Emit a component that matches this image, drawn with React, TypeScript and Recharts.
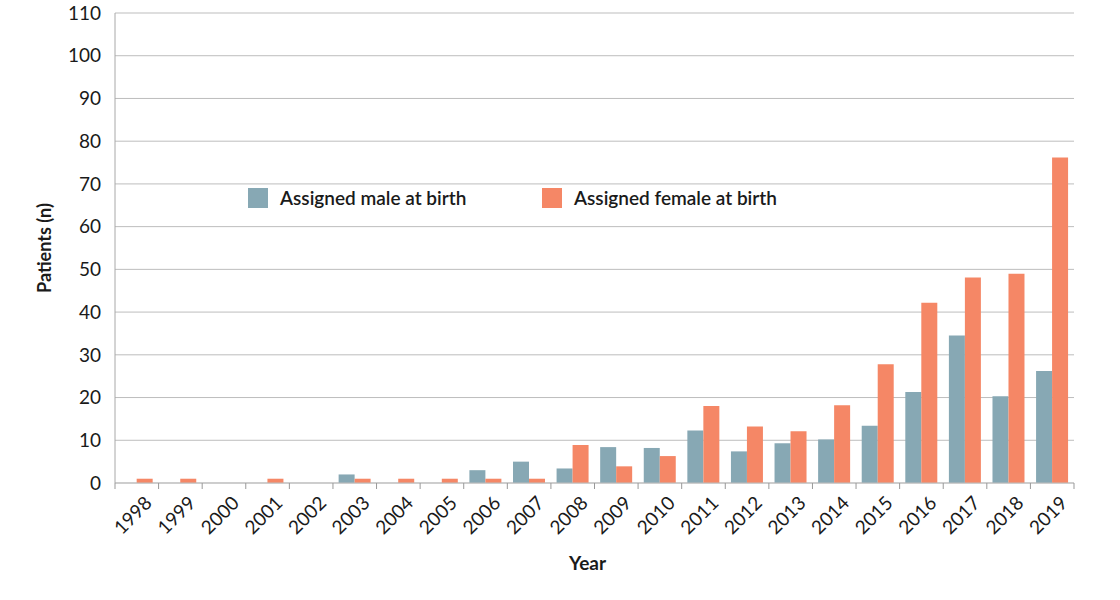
import { Bar, BarChart, CartesianGrid, Label, Legend, XAxis, YAxis } from "recharts";

const years = [
  "1998", "1999", "2000", "2001", "2002", "2003", "2004", "2005", "2006", "2007", "2008",
  "2009", "2010", "2011", "2012", "2013", "2014", "2015", "2016", "2017", "2018", "2019",
];
const male = [0, 0, 0, 0, 0, 2, 0, 0, 3, 5, 3.4, 8.4, 8.2, 12.3, 7.4, 9.3, 10.2, 13.4, 21.3, 34.5, 20.3, 26.2];
const female = [1, 1, 0, 1, 0, 1, 1, 1, 1, 1, 8.9, 3.9, 6.3, 18, 13.2, 12.1, 18.2, 27.8, 42.2, 48.1, 49, 76.2];
const yTicks = [0, 10, 20, 30, 40, 50, 60, 70, 80, 90, 100, 110];

const MALE_COLOR = "#87a8b4";
const FEMALE_COLOR = "#f58766";
const FONT = "Lato, 'Open Sans', sans-serif";

const data = years.map((year, i) => ({ year, male: male[i], female: female[i] }));

const PLOT_LEFT = 115;
const PLOT_RIGHT = 1074;
const band = (PLOT_RIGHT - PLOT_LEFT) / years.length;

function YearTick(props: any) {
  const { x, y, index, payload } = props;
  const left = x - band / 2;
  return (
    <g>
      <line x1={left} y1={y - 8} x2={left} y2={y - 2} stroke="#999" />
      {index === years.length - 1 && (
        <line x1={left + band} y1={y - 8} x2={left + band} y2={y - 2} stroke="#999" />
      )}
      <text
        x={x + 11}
        y={y + 8}
        transform={`rotate(-45, ${x + 11}, ${y + 8})`}
        textAnchor="end"
        dominantBaseline="central"
        fontSize={19}
        fill="#1a1a1a"
        fontFamily={FONT}
      >
        {payload.value}
      </text>
    </g>
  );
}

function LegendBox() {
  const items = [
    { label: "Assigned male at birth", color: MALE_COLOR, left: 0 },
    { label: "Assigned female at birth", color: FEMALE_COLOR, left: 294 },
  ];
  return (
    <div style={{ position: "relative", height: 24, width: 560 }}>
      {items.map((it) => (
        <div
          key={it.label}
          style={{ position: "absolute", left: it.left, top: 0, display: "flex", alignItems: "center" }}
        >
          <span style={{ width: 20, height: 20, background: it.color, display: "inline-block" }} />
          <span
            style={{
              marginLeft: 12,
              fontFamily: FONT,
              fontSize: 19,
              fontWeight: 600,
              color: "#1a1a1a",
              whiteSpace: "nowrap",
            }}
          >
            {it.label}
          </span>
        </div>
      ))}
    </div>
  );
}

export default function App() {
  return (
    <div style={{ position: "absolute", top: 0, left: 0, width: 1120, height: 600, background: "#fff" }}>
      <BarChart
        width={1120}
        height={600}
        data={data}
        margin={{ top: 13, right: 46, bottom: 0, left: 0 }}
        barCategoryGap="13%"
        barGap={0}
      >
        <CartesianGrid vertical={false} stroke="#bdbdbd" />
        <XAxis
          dataKey="year"
          height={117}
          interval={0}
          tickLine={false}
          axisLine={{ stroke: "#bdbdbd" }}
          tick={<YearTick />}
        >
          <Label
            value="Year"
            position="insideBottom"
            offset={30}
            dx={-7}
            style={{ fontFamily: FONT, fontSize: 19, fontWeight: 700, fill: "#1a1a1a" }}
          />
        </XAxis>
        <YAxis
          width={115}
          domain={[0, 110]}
          ticks={yTicks}
          interval={0}
          tickLine={false}
          axisLine={{ stroke: "#a8a8a8" }}
          tick={{ fontFamily: FONT, fontSize: 19, fill: "#1a1a1a" }}
          tickMargin={8}
        >
          <Label
            value="Patients (n)"
            angle={-90}
            position="insideLeft"
            offset={45}
            style={{ fontFamily: FONT, fontSize: 18, fontWeight: 700, fill: "#1a1a1a", textAnchor: "middle" }}
          />
        </YAxis>
        <Legend
          verticalAlign="middle"
          align="center"
          content={<LegendBox />}
          wrapperStyle={{ top: 186, left: 248, width: 560 }}
        />
        <Bar dataKey="male" fill={MALE_COLOR} isAnimationActive={false} />
        <Bar dataKey="female" fill={FEMALE_COLOR} isAnimationActive={false} />
      </BarChart>
    </div>
  );
}
